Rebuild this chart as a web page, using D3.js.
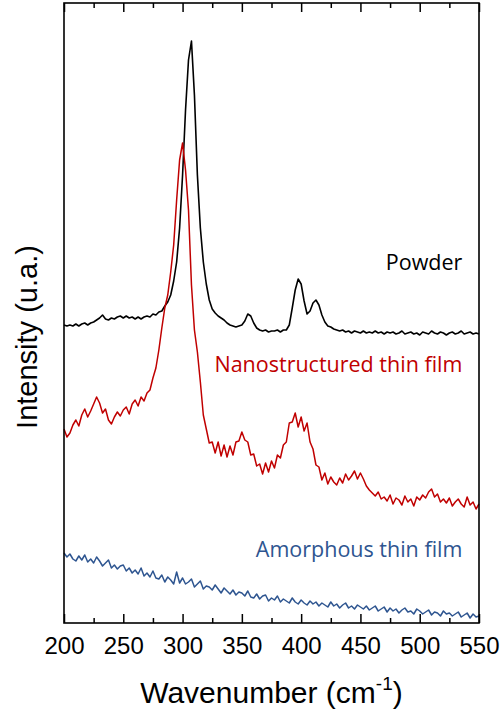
<!DOCTYPE html>
<html>
<head>
<meta charset="utf-8">
<script src="https://cdn.jsdelivr.net/npm/d3@7"></script>
<style>
  body { margin: 0; background: #fff; }
</style>
</head>
<body>
<svg></svg>
<script>
"use strict";

// Raman spectra, sampled every 2.5 cm-1 from 200 to 550
var wnStart = 200, wnStep = 2.5;
var xTicks = [200, 250, 300, 350, 400, 450, 500, 550];
var xMinorTicks = [225, 275, 325, 375, 425, 475, 525];

var powder = [
  298,297,298,297,299,297,299,300,298,300,
  301,303,305,308,304,303,305,304,306,307,
  305,307,305,306,304,306,304,306,307,306,
  309,308,311,312,317,321,328,342,361,395,
  448,513,563,582,528,448,395,361,339,323,
  314,310,307,305,303,300,298,297,296,297,
  298,302,309,307,300,295,293,292,293,291,
  292,292,293,291,293,293,298,315,333,344,
  339,322,309,312,320,323,318,308,301,297,
  296,294,293,292,293,291,292,290,292,291,
  290,292,290,291,290,292,290,291,289,291,
  290,291,289,290,292,289,290,291,289,290,
  288,291,290,289,292,290,289,291,290,288,
  290,291,289,290,292,289,290,291,289,290,
  289
];

var nanoFilm = [
  194,186,190,198,203,197,208,214,206,212,
  219,226,220,210,214,203,199,206,211,207,
  213,216,209,219,223,217,226,222,230,233,
  245,255,273,295,315,328,351,378,423,463,
  480,453,413,338,293,271,241,208,194,180,
  181,170,181,167,178,166,177,168,181,182,
  191,183,181,168,169,157,159,149,160,151,
  162,155,168,165,178,181,200,201,210,196,
  206,192,200,181,174,158,156,143,150,139,
  146,141,138,145,140,149,143,147,152,144,
  150,144,137,133,130,127,131,124,126,122,
  128,119,125,123,118,127,121,124,117,126,
  123,128,125,131,134,126,129,121,124,120,
  125,117,121,124,119,116,126,118,121,114,
  119
];

var amorphousFilm = [
  70,66,69,64,62,67,63,68,61,64,
  60,66,62,57,60,63,55,58,54,57,
  58,52,55,50,53,49,55,47,50,46,
  52,45,44,48,41,46,43,39,51,40,
  45,39,41,44,36,39,42,34,37,36,
  33,38,34,30,35,32,29,33,28,31,
  30,27,32,26,25,29,24,27,28,22,
  25,23,27,21,24,22,20,25,21,19,
  23,20,18,22,19,21,17,20,18,16,
  21,17,19,15,18,20,15,17,14,18,
  16,14,17,13,15,17,12,14,16,11,
  15,12,14,10,13,15,11,12,9,14,
  12,9,11,13,8,11,10,7,12,9,
  10,7,9,11,6,8,10,5,9,6,
  7
];

var seriesNames = ["Powder", "Nanostructured thin film", "Amorphous thin film"];
var seriesColors = ["#000000", "#c00000", "#2e5590"];
var seriesData = [powder, nanoFilm, amorphousFilm];
// label anchor in data units (right end wavenumber, baseline intensity)
var labelPos = [[536, 353], [536, 251], [536, 66]];

var svgWidth = 501, svgHeight = 715;
var margin = { top: 3, right: 22, bottom: 92, left: 64 };
var width = svgWidth - margin.left - margin.right;
var height = svgHeight - margin.top - margin.bottom;

var svg = d3.select("svg")
    .attr("width", svgWidth)
    .attr("height", svgHeight);

svg.append("rect")
    .attr("width", "100%")
    .attr("height", "100%")
    .attr("fill", "white");

var g = svg.append("g")
    .attr("transform", "translate(" + margin.left + "," + margin.top + ")");

var x = d3.scaleLinear().domain([200, 550]).range([0, width]);
var y = d3.scaleLinear().domain([0, 620]).range([height, 0]);

var line = d3.line()
    .x(function (d, i) { return x(wnStart + i * wnStep); })
    .y(function (d) { return y(d); });

// spectra
seriesData.forEach(function (s, k) {
    g.append("path")
        .datum(s)
        .attr("fill", "none")
        .attr("stroke", seriesColors[k])
        .attr("stroke-width", k === 0 ? 1.6 : 1.5)
        .attr("stroke-linejoin", "round")
        .attr("d", line);
});

// axes: major and minor ticks pointing inward, bottom and top
function styleAxis(sel) {
    sel.select(".domain").remove();
    sel.selectAll(".tick line").attr("stroke", "#000").attr("stroke-width", 1.5);
}

g.append("g")
    .attr("transform", "translate(0," + height + ")")
    .call(d3.axisBottom(x).tickValues(xTicks).tickSize(-9).tickPadding(14).tickFormat(d3.format("d")))
    .call(styleAxis)
    .selectAll("text")
    .attr("font-family", "'Liberation Sans', Arial, sans-serif")
    .attr("font-size", "24px")
    .attr("fill", "#000");

g.append("g")
    .attr("transform", "translate(0," + height + ")")
    .call(d3.axisBottom(x).tickValues(xMinorTicks).tickSize(-5).tickFormat(""))
    .call(styleAxis);

g.append("g")
    .call(d3.axisTop(x).tickValues(xTicks).tickSize(-9).tickFormat(""))
    .call(styleAxis);

g.append("g")
    .call(d3.axisTop(x).tickValues(xMinorTicks).tickSize(-5).tickFormat(""))
    .call(styleAxis);

// frame
g.append("rect")
    .attr("width", width)
    .attr("height", height)
    .attr("fill", "none")
    .attr("stroke", "#000")
    .attr("stroke-width", 1.6);

// series labels
seriesNames.forEach(function (name, k) {
    g.append("text")
        .attr("x", x(labelPos[k][0]))
        .attr("y", y(labelPos[k][1]))
        .attr("text-anchor", "end")
        .attr("font-family", "'Open Sans', sans-serif")
        .attr("font-size", "21.5px")
        .attr("fill", seriesColors[k])
        .text(name);
});

// axis titles
var xTitle = svg.append("text")
    .attr("x", margin.left + width / 2)
    .attr("y", 703)
    .attr("text-anchor", "middle")
    .attr("font-family", "'Liberation Sans', Arial, sans-serif")
    .attr("font-size", "30px")
    .attr("fill", "#000");
xTitle.append("tspan").text("Wavenumber (cm");
xTitle.append("tspan").attr("dy", -13).attr("font-size", "19px").text("-1");
xTitle.append("tspan").attr("dy", 13).text(")");

svg.append("text")
    .attr("transform", "translate(37,337) rotate(-90)")
    .attr("text-anchor", "middle")
    .attr("font-family", "'Liberation Sans', Arial, sans-serif")
    .attr("font-size", "29px")
    .attr("fill", "#000")
    .text("Intensity (u.a.)");
</script>
</body>
</html>
